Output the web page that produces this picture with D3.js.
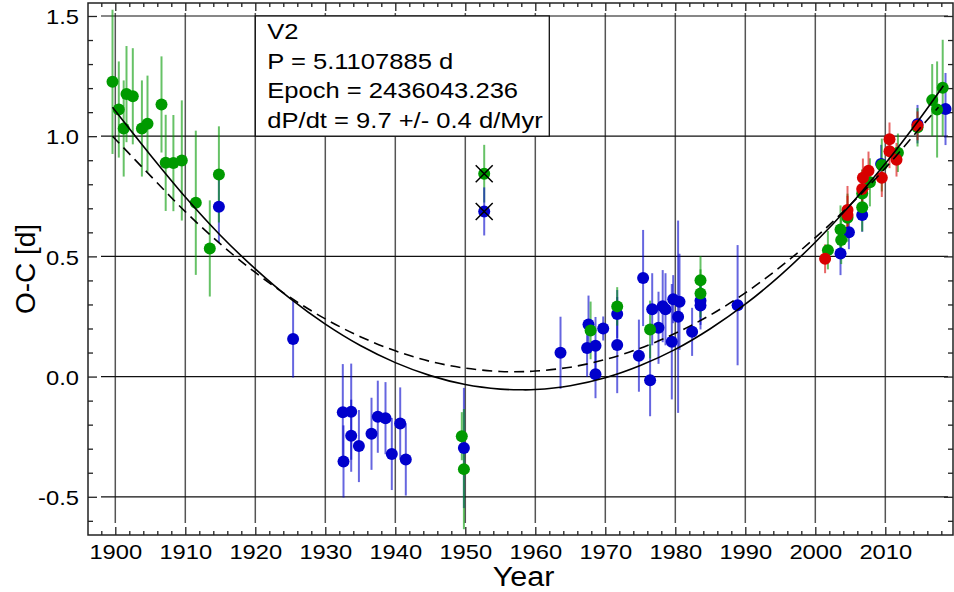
<!DOCTYPE html>
<html><head><meta charset="utf-8">
<script src="https://cdn.jsdelivr.net/npm/d3@7"></script>
<style>
body{margin:0;background:#fff}
svg{display:block}
text{font-family:"Liberation Sans",Arial,Helvetica,sans-serif;fill:#000}
</style>
</head><body>
<svg id="chart" width="954" height="592"></svg>
<script>
// ---------------- data ----------------
const greenYear = [1899.6,1900.5,1901.2,1901.6,1902.5,1903.8,1904.6,1906.6,1907.2,1908.3,1909.5,1911.5,1913.5,1914.8,
  1949.5,1949.8,1967.9,1971.7,1976.4,1983.6,1983.6,
  2001.8,2003.7,2003.6,2004.6,2006.7,2006.7,2007.8,2009.5,2011.8,2014.6,2016.7,2017.4,2018.2];
const greenOC = [1.226,1.111,1.032,1.175,1.166,1.032,1.052,1.132,0.889,0.888,0.899,0.723,0.533,0.841,
  -0.248,-0.385,0.192,0.292,0.196,0.401,0.346,
  0.526,0.568,0.612,0.661,0.704,0.762,0.808,0.880,0.931,1.037,1.150,1.111,1.201];
const greenErr = [0.30,0.20,0.20,0.20,0.20,0.20,0.20,0.20,0.20,0.20,0.25,0.30,0.20,0.20,
  0.10,0.25,0.12,0.08,0.12,0.10,0.10,
  0.08,0.10,0.10,0.10,0.10,0.10,0.10,0.11,0.08,0.08,0.15,0.20,0.20];

const blueYear = [1914.8,1925.4,1932.5,1932.6,1933.7,1933.7,1934.8,1936.6,1937.5,1938.6,1939.5,1940.7,1941.5,1949.8,
  1963.6,1967.6,1967.4,1968.6,1968.6,1969.7,1971.7,1971.7,1974.8,1975.4,1976.4,1976.7,1977.6,1978.2,1978.6,
  1979.5,1979.7,1980.4,1980.6,1982.4,1983.6,1983.6,1988.9,
  2003.6,2004.8,2006.7,2009.4,2014.6,2018.6];
const blueOC = [0.706,0.156,-0.148,-0.353,-0.146,-0.246,-0.289,-0.238,-0.167,-0.173,-0.322,-0.195,-0.345,-0.297,
  0.099,0.217,0.119,0.128,0.010,0.200,0.260,0.131,0.087,0.410,-0.015,0.280,0.203,0.293,0.280,
  0.145,0.322,0.249,0.311,0.186,0.315,0.296,0.297,
  0.512,0.600,0.672,0.884,1.050,1.113];
const blueErr = [0.15,0.16,0.20,0.15,0.20,0.15,0.15,0.15,0.15,0.15,0.15,0.15,0.15,0.25,
  0.15,0.12,0.12,0.12,0.10,0.05,0.10,0.20,0.15,0.20,0.15,0.15,0.15,0.15,0.15,
  0.24,0.10,0.40,0.20,0.10,0.10,0.10,0.25,
  0.09,0.07,0.07,0.08,0.08,0.15];

const redYear = [2001.4,2004.6,2004.6,2006.7,2006.8,2007.6,2009.5,2010.6,2010.6,2011.6,2014.6];
const redOC   = [0.490,0.672,0.693,0.780,0.827,0.856,0.827,0.987,0.937,0.902,1.043];
const redErr  = [0.06,0.08,0.10,0.08,0.08,0.08,0.08,0.07,0.07,0.07,0.06];

// rejected (crossed-out) points
const crossYear  = [1952.7,1952.7];
const crossOC    = [0.844,0.687];
const crossErr   = [0.12,0.10];
const crossColor = ["green","blue"];

// fitted curves
const solidYear = [1899.6,1905,1910,1915,1920,1925,1930,1935,1940,1945,1950,1955,1958,1960,1965,1970,1975,1980,1985,1990,1995,2000,2005,2010,2015,2018.3];
const solidOC   = [1.12,0.922,0.747,0.588,0.448,0.324,0.218,0.129,0.058,0.004,-0.033,-0.052,-0.055,-0.054,-0.038,-0.005,0.046,0.113,0.199,0.301,0.421,0.559,0.714,0.886,1.076,1.21];
const dashYear  = [1899.6,1905,1910,1915,1920,1925,1930,1935,1940,1945,1950,1955,1957,1960,1965,1970,1975,1980,1985,1990,1995,2000,2005,2010,2015,2017.6];
const dashOC    = [1.0,0.836,0.686,0.552,0.433,0.329,0.240,0.166,0.107,0.063,0.035,0.021,0.020,0.023,0.039,0.071,0.118,0.180,0.256,0.348,0.456,0.578,0.715,0.867,1.035,1.12];

const xTicks = [1900,1910,1920,1930,1940,1950,1960,1970,1980,1990,2000,2010];
const yTicks = [-0.5,0.0,0.5,1.0,1.5];
const legendLines = ["V2","P = 5.1107885 d","Epoch = 2436043.236","dP/dt = 9.7 +/- 0.4 d/Myr"];
const xTitle = "Year", yTitle = "O-C [d]";

// ---------------- drawing ----------------
const colors = {green:"#009a00", blue:"#0000cc", red:"#d80000"};
const L = 88, R = 953, T = 3, B = 535;
const SX = 1.13;
const svg = d3.select("#chart");
const x = d3.scaleLinear().domain([1896.1, 2019.67]).range([L, R]);
const y = d3.scaleLinear().domain([-0.659, 1.554]).range([B, T]);

svg.append("defs").append("clipPath").attr("id","plot")
  .append("rect").attr("x",L).attr("y",T).attr("width",R-L).attr("height",B-T);

// grid
const grid = svg.append("g");
grid.selectAll("line.v").data(xTicks).join("line")
  .attr("x1",d=>x(d)).attr("x2",d=>x(d)).attr("y1",T+10).attr("y2",B-12)
  .attr("stroke","#555").attr("stroke-width",1.5);
grid.selectAll("line.h").data(yTicks).join("line")
  .attr("x1",L+13).attr("x2",R-5).attr("y1",d=>y(d)).attr("y2",d=>y(d))
  .attr("stroke","#111").attr("stroke-width",1.2);

// axes
const minorX = d3.range(1898, 2020, 2).filter(d => d % 10 !== 0);
const minorY = d3.range(-6, 16).map(d => d/10).filter(d => Math.abs(d*2 - Math.round(d*2)) > 1e-6);
function styleAxis(g){ g.select(".domain").remove(); g.selectAll(".tick line").attr("stroke","#222").attr("stroke-width",1.3); }

svg.append("g").attr("transform",`translate(${L},0)`)
  .call(d3.axisLeft(y).tickValues(yTicks).tickSizeInner(-9).tickSizeOuter(0).tickPadding(8).tickFormat(d=>d.toFixed(1)))
  .call(styleAxis)
  .call(g=>g.selectAll("text").attr("font-size",21).attr("dy","0.37em")
     .attr("font-family",'"Liberation Sans",Arial,sans-serif').attr("fill","#000")
     .attr("transform",`scale(${SX},1)`));
svg.append("g").attr("transform",`translate(${L},0)`)
  .call(d3.axisLeft(y).tickValues(minorY).tickSizeInner(-5).tickSizeOuter(0).tickFormat(""))
  .call(styleAxis);
svg.append("g").attr("transform",`translate(${R},0)`)
  .call(d3.axisRight(y).tickValues(yTicks).tickSizeInner(-9).tickSizeOuter(0).tickFormat(""))
  .call(styleAxis);
svg.append("g").attr("transform",`translate(${R},0)`)
  .call(d3.axisRight(y).tickValues(minorY).tickSizeInner(-5).tickSizeOuter(0).tickFormat(""))
  .call(styleAxis);
svg.append("g").attr("transform",`translate(0,${B})`)
  .call(d3.axisBottom(x).tickValues(xTicks).tickSizeInner(-8).tickSizeOuter(0).tickPadding(9).tickFormat(d3.format("d")))
  .call(styleAxis)
  .call(g=>g.selectAll("text").attr("font-size",21)
     .attr("font-family",'"Liberation Sans",Arial,sans-serif').attr("fill","#000")
     .attr("transform",`scale(${SX},1)`));
svg.append("g").attr("transform",`translate(0,${B})`)
  .call(d3.axisBottom(x).tickValues(minorX).tickSizeInner(-4).tickSizeOuter(0).tickFormat(""))
  .call(styleAxis);
svg.append("g").attr("transform",`translate(0,${T})`)
  .call(d3.axisTop(x).tickValues(xTicks).tickSizeInner(-8).tickSizeOuter(0).tickFormat(""))
  .call(styleAxis);
svg.append("g").attr("transform",`translate(0,${T})`)
  .call(d3.axisTop(x).tickValues(minorX).tickSizeInner(-4).tickSizeOuter(0).tickFormat(""))
  .call(styleAxis);

// frame
svg.append("rect").attr("x",L).attr("y",T).attr("width",R-L).attr("height",B-T)
  .attr("fill","none").attr("stroke","#222").attr("stroke-width",1.5);

// legend box
const lg = svg.append("g");
lg.append("rect").attr("x",x(1920)).attr("y",y(1.5)).attr("width",x(1962)-x(1920)).attr("height",y(1.0)-y(1.5))
  .attr("fill","#fff").attr("stroke","#111").attr("stroke-width",1.3);
lg.selectAll("text").data(legendLines).join("text")
  .attr("transform",(d,i)=>`translate(${x(1920)+12},${y(1.5)+23+i*29.7}) scale(1.2,1)`)
  .attr("font-size",21.3).text(d=>d);

// data
const plot = svg.append("g").attr("clip-path","url(#plot)");
function series(yr, oc, er, col){ return yr.map((d,i)=>({t:d, v:oc[i], e:er[i], c:col})); }
const pts = [].concat(series(blueYear,blueOC,blueErr,"blue"),
                      series(greenYear,greenOC,greenErr,"green"),
                      series(redYear,redOC,redErr,"red"));
const cross = crossYear.map((d,i)=>({t:d, v:crossOC[i], e:crossErr[i], c:crossColor[i]}));
const all = pts.concat(cross);

plot.append("g").selectAll("line").data(all).join("line")
  .attr("x1",d=>x(d.t)).attr("x2",d=>x(d.t))
  .attr("y1",d=>y(d.v-d.e)).attr("y2",d=>y(d.v+d.e))
  .attr("stroke",d=>colors[d.c]).attr("stroke-width",2).attr("stroke-opacity",0.6);

plot.append("g").selectAll("circle").data(all).join("circle")
  .attr("cx",d=>x(d.t)).attr("cy",d=>y(d.v)).attr("r",6)
  .attr("fill",d=>colors[d.c]);

// curves
const line = d3.line().x(d=>x(d[0])).y(d=>y(d[1])).curve(d3.curveCatmullRom);
plot.append("path").datum(solidYear.map((d,i)=>[d,solidOC[i]])).attr("d",line)
  .attr("fill","none").attr("stroke","#000").attr("stroke-width",1.6);
plot.append("path").datum(dashYear.map((d,i)=>[d,dashOC[i]])).attr("d",line)
  .attr("fill","none").attr("stroke","#000").attr("stroke-width",1.6).attr("stroke-dasharray","10,6");

// crosses on rejected points
plot.append("g").selectAll("path").data(cross).join("path")
  .attr("d",d=>{const cx=x(d.t), cy=y(d.v), s=8.5;
    return `M${cx-s},${cy-s}L${cx+s},${cy+s}M${cx-s},${cy+s}L${cx+s},${cy-s}`;})
  .attr("stroke","#000").attr("stroke-width",1.5).attr("fill","none");

// titles
svg.append("text").attr("transform",`translate(${(L+R)/2+3},586) scale(${SX},1)`)
  .attr("text-anchor","middle").attr("font-size",27).text(xTitle);
svg.append("text").attr("transform",`translate(35,269) rotate(-90)`)
  .attr("text-anchor","middle").attr("font-size",28).text(yTitle);
</script>
</body></html>
